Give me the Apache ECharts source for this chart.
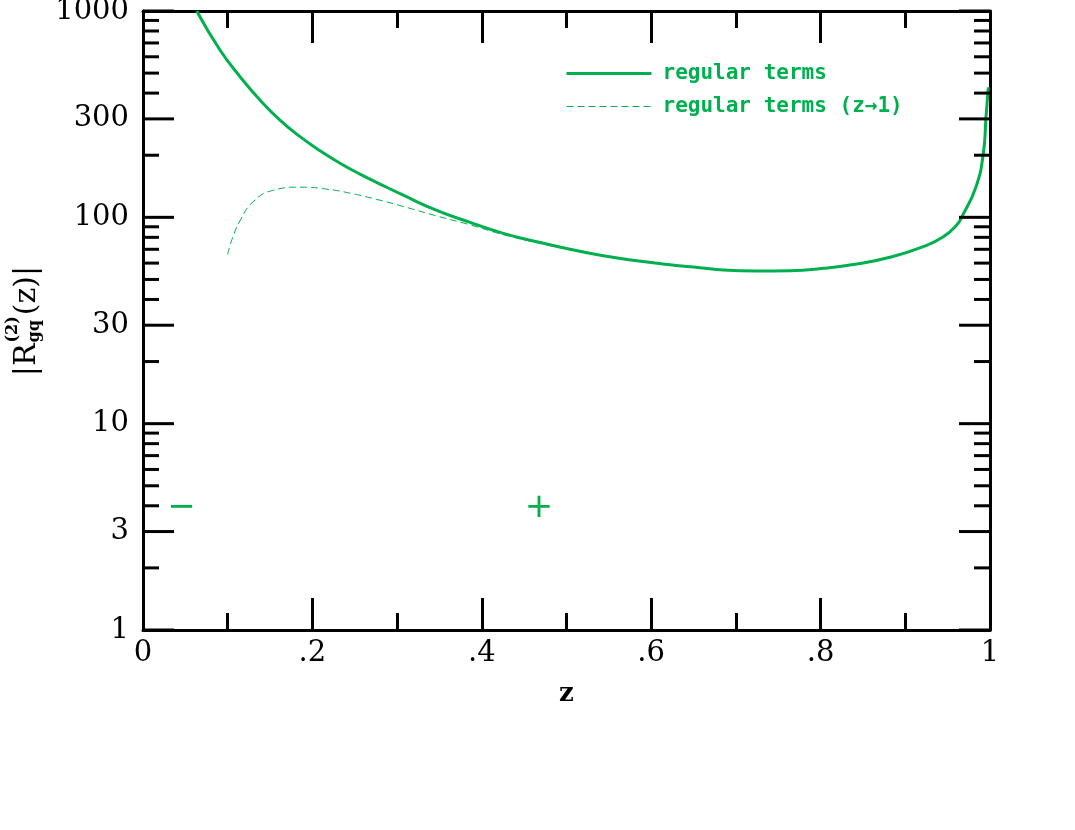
<!DOCTYPE html>
<html><head><meta charset="utf-8">
<script src="https://cdn.jsdelivr.net/npm/echarts@6/dist/echarts.min.js"></script>
<style>html,body{margin:0;padding:0;background:#fff}#c{width:1075px;height:830px}</style>
</head><body><div id="c"></div>
<script>
// ---- data ----
const zSolid = [0.0634,0.0909,0.1145,0.1381,0.1617,0.1854,0.2090,0.2326,0.2562,0.2798,0.3073,0.3468,0.3861,0.4254,0.4648,0.5041,0.5435,0.5829,0.6222,0.6576,0.6851,0.7245,0.7639,0.8032,0.8426,0.8819,0.9213,0.9449,0.9607,0.9665,0.9835,0.9921,0.9953,0.9980];
const rSolid = [1000,647,481,370,296,246,210,183,162,145,128,108,94.5,83.6,76.2,70,65.1,61.6,58.9,57,55.5,54.9,55.1,56.6,59.4,64,72.1,80.5,91.8,100,140.7,204,307,427];
const zDashed = [0.100,0.105,0.115,0.130,0.153,0.185,0.217,0.248,0.280,0.307,0.347,0.386,0.425,0.465,0.504,0.544,0.583];
const rDashed = [66,78,97,119,135,140,137,130,121,113,101.5,92,82.5,75.4,69.6,65,61.6];
const seriesNames = ['regular terms', 'regular terms (z\u21921)'];
const xTickLabels = ['0', '.2', '.4', '.6', '.8', '1'];
const yMajorTicks = [1, 3, 10, 30, 100, 300, 1000];
const yMajorLabels = ['1', '3', '10', '30', '100', '300', '1000'];
const yMinorTicks = [2,4,5,6,7,8,9,20,40,50,60,70,80,90,200,400,500,600,700,800,900];
const signZ = [0.0455, 0.4675];
const signR = [4, 4];
const signText = ['\u2212', '+'];
const xName = 'z';

// ---- styling ----
const GREEN = '#00b04f';
const serif = '"DejaVu Serif", "Liberation Serif", serif';
const ctx = document.createElement('canvas').getContext('2d');
function tw(font, s) { ctx.font = font; return ctx.measureText(s).width; }
const fMain = '30px "DejaVu Serif"';
const fSmall = 'bold 16px "DejaVu Serif"';
const w1 = tw(fMain, '|R');
const w2 = Math.max(tw(fSmall, '(2)'), tw(fSmall, 'gq'));
const w3 = tw(fMain, '(z)|');
const totalW = w1 + w2 + w3 + 2;
const x0 = -totalW / 2;

const chart = echarts.init(document.getElementById('c'));
const tickStyle = { stroke: '#000', lineWidth: 3 };

const yTickData = yMajorTicks.map((v, i) => [0, v, 1, i]).concat(yMinorTicks.map(v => [0, v, 0, -1]));

const xAxisCommon = {
  type: 'value', min: 0, max: 1, interval: 0.2,
  axisLine: { show: true, onZero: false, lineStyle: { color: '#000', width: 3 } },
  axisTick: { show: true, inside: true, length: 32, lineStyle: { color: '#000', width: 3 } },
  minorTick: { show: true, splitNumber: 2, length: 17, lineStyle: { color: '#000', width: 3 } },
  splitLine: { show: false }, minorSplitLine: { show: false }
};
const yAxisCommon = {
  type: 'log', min: 1, max: 1000, logBase: 10,
  axisLine: { show: true, onZero: false, lineStyle: { color: '#000', width: 3 } },
  axisTick: { show: false }, axisLabel: { show: false },
  splitLine: { show: false }, minorTick: { show: false }
};

const option = {
  animation: false,
  backgroundColor: '#fff',
  grid: { left: 143, right: 85, top: 11, bottom: 200, containLabel: false },
  xAxis: [
    Object.assign({}, xAxisCommon, {
      position: 'bottom',
      name: xName, nameLocation: 'middle', nameGap: 51,
      nameTextStyle: { fontFamily: serif, fontWeight: 'bold', fontSize: 26, color: '#000' },
      axisLabel: { show: true, margin: 9, fontFamily: serif, fontSize: 29, color: '#000',
        formatter: v => xTickLabels[Math.round(v * 5)] }
    }),
    Object.assign({}, xAxisCommon, { position: 'top', axisLabel: { show: false } })
  ],
  yAxis: [
    Object.assign({}, yAxisCommon, { position: 'left' }),
    Object.assign({}, yAxisCommon, { position: 'right' })
  ],
  legend: {
    left: 565, top: 63, orient: 'vertical', padding: 0,
    itemWidth: 85, itemHeight: 20, itemGap: 12,
    itemStyle: { opacity: 0 },
    textStyle: { color: GREEN, fontFamily: '"DejaVu Sans Mono", monospace', fontWeight: 'bold', fontSize: 21, padding: [0, 0, 0, 6] },
    data: [
      { name: seriesNames[0], itemStyle: { opacity: 0 }, lineStyle: { color: GREEN, width: 3, type: 'solid' } },
      { name: seriesNames[1], itemStyle: { opacity: 0 }, lineStyle: { color: GREEN, width: 1, type: [7, 4] } }
    ]
  },
  graphic: [{
    type: 'group', x: 27, y: 321, rotation: Math.PI / 2, silent: true,
    children: [
      { type: 'text', x: x0, y: 0, style: { text: '|R', font: fMain, fill: '#000', verticalAlign: 'middle', textVerticalAlign: 'middle' } },
      { type: 'text', x: x0 + w1 + 1, y: -14, style: { text: '(2)', font: fSmall, fill: '#000', verticalAlign: 'middle', textVerticalAlign: 'middle' } },
      { type: 'text', x: x0 + w1 + 1, y: 8, style: { text: 'gq', font: fSmall, fill: '#000', verticalAlign: 'middle', textVerticalAlign: 'middle' } },
      { type: 'text', x: x0 + w1 + w2 + 2, y: 0, style: { text: '(z)|', font: fMain, fill: '#000', verticalAlign: 'middle', textVerticalAlign: 'middle' } }
    ]
  }],
  series: [
    {
      type: 'line', name: seriesNames[0], xAxisIndex: 0, yAxisIndex: 0,
      data: zSolid.map((z, i) => [z, rSolid[i]]),
      symbol: 'none', showSymbol: false, smooth: 0.5, z: 4,
      lineStyle: { color: GREEN, width: 3 }, itemStyle: { color: GREEN }
    },
    {
      type: 'line', name: seriesNames[1], xAxisIndex: 0, yAxisIndex: 0,
      data: zDashed.map((z, i) => [z, rDashed[i]]),
      symbol: 'none', showSymbol: false, smooth: 0.5, z: 3,
      lineStyle: { color: GREEN, width: 1, type: [7, 4] }, itemStyle: { color: GREEN }
    },
    {
      type: 'custom', xAxisIndex: 0, yAxisIndex: 0, silent: true, z: 5,
      data: yTickData,
      renderItem: function (params, api) {
        const cs = params.coordSys;
        const y = api.coord([0, api.value(1)])[1];
        const len = api.value(2) === 1 ? 31 : 16;
        const li = api.value(3);
        const ch = [
          { type: 'line', shape: { x1: cs.x, y1: y, x2: cs.x + len, y2: y }, style: tickStyle },
          { type: 'line', shape: { x1: cs.x + cs.width, y1: y, x2: cs.x + cs.width - len, y2: y }, style: tickStyle }
        ];
        if (li >= 0) {
          ch.push({ type: 'text', x: cs.x - 14, y: y,
            style: { text: yMajorLabels[li], font: '29px "DejaVu Serif"', fill: '#000',
              align: 'right', textAlign: 'right', verticalAlign: 'middle', textVerticalAlign: 'middle' } });
        }
        return { type: 'group', children: ch };
      }
    },
    {
      type: 'custom', xAxisIndex: 0, yAxisIndex: 0, silent: true, z: 5,
      data: signZ.map((z, i) => [z, signR[i], i]),
      renderItem: function (params, api) {
        const p = api.coord([api.value(0), api.value(1)]);
        return { type: 'text', x: p[0], y: p[1] + 2,
          style: { text: signText[api.value(2)], font: '34px "DejaVu Sans"', fill: GREEN,
            align: 'center', textAlign: 'center', verticalAlign: 'middle', textVerticalAlign: 'middle' } };
      }
    }
  ]
};
chart.setOption(option);
</script>
</body></html>
